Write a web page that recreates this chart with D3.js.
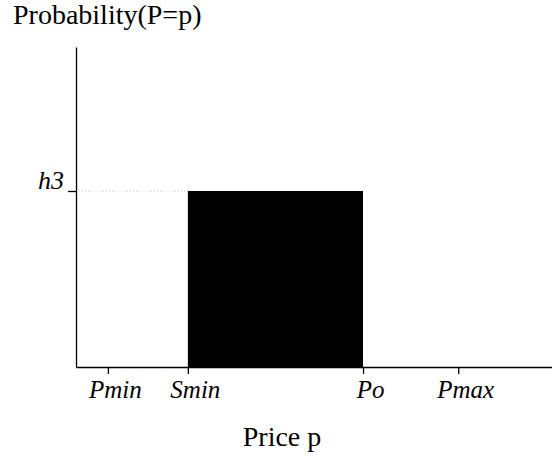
<!DOCTYPE html>
<html>
<head>
<meta charset="utf-8">
<script src="https://cdn.jsdelivr.net/npm/d3@7"></script>
<style>
  body { margin: 0; background: #fff; }
</style>
</head>
<body>
<div id="chart"></div>
<script>
// price ticks along the x axis (arbitrary price units)
const priceNames = ["Pmin", "Smin", "Po", "Pmax"];
const priceValues = [0.67, 2.35, 6.03, 8.03];

// probability level marked on the y axis
const levelNames = ["h3"];
const levelValues = [0.55];

// the uniform block: from Smin to Po at height h3
const blockFrom = ["Smin"];
const blockTo = ["Po"];
const blockHeight = [0.55];

const fontSerif = "'Liberation Serif', 'Times New Roman', Times, serif";
const width = 552, height = 460;
const plotLeft = 76, plotBottom = 367, plotTop = 47;

const svg = d3.select("#chart")
  .append("svg")
  .attr("width", width)
  .attr("height", height);

const x = d3.scaleLinear().domain([0, 10]).range([plotLeft, width]);
const y = d3.scaleLinear().domain([0, 1]).range([plotBottom, plotTop]);

const priceOf = name => priceValues[priceNames.indexOf(name)];

// dotted guide from the axis to the block
svg.selectAll("line.guide")
  .data(levelValues)
  .enter()
  .append("line")
  .attr("class", "guide")
  .attr("x1", x(0))
  .attr("x2", x(priceOf(blockFrom[0])))
  .attr("y1", d => y(d))
  .attr("y2", d => y(d))
  .attr("stroke", "#c8c8c8")
  .attr("stroke-width", 1)
  .attr("stroke-dasharray", "1,2");

svg.selectAll("rect.block")
  .data(blockHeight)
  .enter()
  .append("rect")
  .attr("class", "block")
  .attr("x", (d, i) => x(priceOf(blockFrom[i])))
  .attr("width", (d, i) => x(priceOf(blockTo[i])) - x(priceOf(blockFrom[i])))
  .attr("y", d => y(d))
  .attr("height", d => y(0) - y(d))
  .attr("fill", "#000");

const xAxis = svg.append("g")
  .attr("transform", "translate(0," + plotBottom + ")")
  .call(d3.axisBottom(x)
    .tickValues(priceValues)
    .tickFormat((d, i) => priceNames[i])
    .tickSize(7)
    .tickSizeOuter(0)
    .tickPadding(6));

const yAxis = svg.append("g")
  .attr("transform", "translate(" + plotLeft + ",0)")
  .call(d3.axisLeft(y)
    .tickValues(levelValues)
    .tickFormat((d, i) => levelNames[i])
    .tickSize(8)
    .tickSizeOuter(0)
    .tickPadding(4));

[xAxis, yAxis].forEach(function (g) {
  g.attr("font-family", fontSerif);
  g.selectAll("path.domain").attr("stroke", "#000").attr("stroke-width", 1.3);
  g.selectAll(".tick line").attr("stroke", "#000").attr("stroke-width", 1.3);
  g.selectAll(".tick text")
    .attr("fill", "#000")
    .style("font-family", fontSerif)
    .style("font-style", "italic")
    .style("font-size", "25px");
});

xAxis.selectAll(".tick text").attr("dy", "0.71em").attr("dx", 7);
yAxis.selectAll(".tick text").attr("dy", "-0.1em").style("font-size", "26px");

svg.append("text")
  .attr("x", 13)
  .attr("y", 24)
  .style("font-family", fontSerif)
  .style("font-size", "28px")
  .text("Probability(P=p)");

svg.append("text")
  .attr("x", 282)
  .attr("y", 446)
  .attr("text-anchor", "middle")
  .style("font-family", fontSerif)
  .style("font-size", "28px")
  .text("Price p");
</script>
</body>
</html>
